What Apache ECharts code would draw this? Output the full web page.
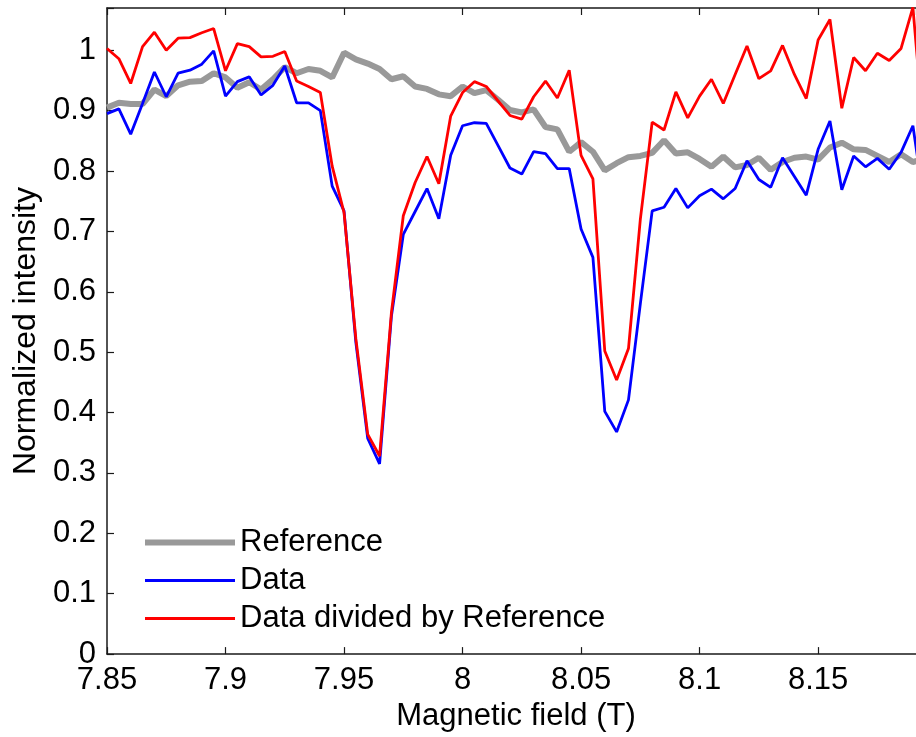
<!DOCTYPE html>
<html>
<head>
<meta charset="utf-8">
<script src="https://cdn.jsdelivr.net/npm/echarts@6/dist/echarts.min.js"></script>
<style>
  html, body { margin: 0; padding: 0; background: #fff; overflow: hidden; }
  #chart { width: 916px; height: 737px; }
</style>
</head>
<body>
<div id="chart"></div>
<script>
// Magnetic field values (T)
const field = [
  7.850, 7.855, 7.860, 7.865, 7.870, 7.875, 7.880, 7.885, 7.890, 7.895,
  7.900, 7.905, 7.910, 7.915, 7.920, 7.925, 7.930, 7.935, 7.940, 7.945,
  7.950, 7.955, 7.960, 7.965, 7.970, 7.975, 7.980, 7.985, 7.990, 7.995,
  8.000, 8.005, 8.010, 8.015, 8.020, 8.025, 8.030, 8.035, 8.040, 8.045,
  8.050, 8.055, 8.060, 8.065, 8.070, 8.075, 8.080, 8.085, 8.090, 8.095,
  8.100, 8.105, 8.110, 8.115, 8.120, 8.125, 8.130, 8.135, 8.140, 8.145,
  8.150, 8.155, 8.160, 8.165, 8.170, 8.175, 8.180, 8.185, 8.190, 8.195
];
// Reference (grey)
const reference = [
  0.905, 0.913, 0.911, 0.911, 0.935, 0.924, 0.942, 0.948, 0.949, 0.962,
  0.955, 0.938, 0.947, 0.935, 0.952, 0.972, 0.962, 0.969, 0.966, 0.955,
  0.996, 0.985, 0.978, 0.969, 0.952, 0.957, 0.940, 0.936, 0.927, 0.924,
  0.940, 0.929, 0.934, 0.918, 0.901, 0.897, 0.902, 0.873, 0.869, 0.832,
  0.848, 0.832, 0.801, 0.813, 0.823, 0.825, 0.830, 0.851, 0.829, 0.831,
  0.820, 0.807, 0.824, 0.806, 0.810, 0.822, 0.802, 0.815, 0.822, 0.824,
  0.819, 0.839, 0.847, 0.836, 0.835, 0.825, 0.815, 0.828, 0.815, 0.820
];
// Data (blue)
const dataSeries = [
  0.895, 0.903, 0.861, 0.912, 0.964, 0.923, 0.962, 0.967, 0.977, 0.999,
  0.924, 0.948, 0.956, 0.926, 0.942, 0.974, 0.913, 0.913, 0.900, 0.775,
  0.734, 0.516, 0.357, 0.315, 0.560, 0.695, 0.733, 0.771, 0.721, 0.826,
  0.875, 0.880, 0.879, 0.842, 0.805, 0.795, 0.832, 0.829, 0.804, 0.804,
  0.704, 0.657, 0.402, 0.368, 0.421, 0.580, 0.734, 0.740, 0.771, 0.739,
  0.759, 0.770, 0.754, 0.771, 0.817, 0.786, 0.773, 0.822, 0.791, 0.760,
  0.836, 0.883, 0.769, 0.825, 0.807, 0.821, 0.803, 0.831, 0.875, 0.740
];
// Data divided by Reference (red)
const ratio = [
  1.003, 0.986, 0.945, 1.006, 1.030, 1.000, 1.020, 1.021, 1.029, 1.036,
  0.966, 1.011, 1.006, 0.989, 0.990, 0.998, 0.949, 0.940, 0.930, 0.808,
  0.731, 0.522, 0.364, 0.328, 0.566, 0.726, 0.781, 0.824, 0.779, 0.891,
  0.930, 0.948, 0.940, 0.916, 0.892, 0.886, 0.923, 0.949, 0.921, 0.967,
  0.826, 0.787, 0.502, 0.454, 0.506, 0.720, 0.881, 0.868, 0.931, 0.888,
  0.924, 0.952, 0.912, 0.960, 1.007, 0.953, 0.966, 1.008, 0.960, 0.920,
  1.017, 1.051, 0.904, 0.988, 0.966, 0.995, 0.983, 1.003, 1.071, 0.840
];
const seriesNames = ['Reference', 'Data', 'Data divided by Reference'];
const seriesColors = ['#999999', '#0000ff', '#ff0000'];
const xLabelTicks = [7.85, 7.9, 7.95, 8, 8.05, 8.1, 8.15];
const yLabelTicks = [0, 0.1, 0.2, 0.3, 0.4, 0.5, 0.6, 0.7, 0.8, 0.9, 1];

const pair = ys => field.map((x, i) => [x, ys[i]]);
const FONT = '"Liberation Sans", Arial, Helvetica, sans-serif';
const AX = '#1a1a1a';
const FS = 31;
const X_MIN = 7.85, X_MAX = 8.1913;

function fmtX(v) {
  for (const t of xLabelTicks) if (Math.abs(v - t) < 1e-6) return String(t);
  return '';
}
function fmtY(v) {
  for (const t of yLabelTicks) if (Math.abs(v - t) < 1e-6) return String(t);
  return '';
}

const chart = echarts.init(document.getElementById('chart'), null, { renderer: 'canvas' });
chart.setOption({
  animation: false,
  backgroundColor: '#fff',
  textStyle: { fontFamily: FONT },
  grid: { left: 107, right: 0, top: 8, bottom: 82, containLabel: false },
  legend: {
    orient: 'vertical',
    left: 140,
    top: 522,
    itemWidth: 90,
    itemHeight: 14,
    itemGap: 7,
    itemStyle: { borderWidth: 0 },
    data: [
      { name: seriesNames[0], icon: 'path://M0,0H90V6H0Z', itemStyle: { color: seriesColors[0] } },
      { name: seriesNames[1], icon: 'path://M0,0H90V2.8H0Z', itemStyle: { color: seriesColors[1] } },
      { name: seriesNames[2], icon: 'path://M0,0H90V2.8H0Z', itemStyle: { color: seriesColors[2] } }
    ],
    textStyle: { fontSize: FS, color: '#000', fontFamily: FONT }
  },
  xAxis: [{
    type: 'value',
    min: X_MIN, max: X_MAX, interval: 0.05,
    position: 'bottom',
    name: 'Magnetic field (T)',
    nameLocation: 'middle',
    nameGap: 46,
    nameTextStyle: { fontSize: FS, color: '#000', padding: [0, 0, 0, 9] },
    axisLine: { show: true, onZero: false, lineStyle: { color: AX, width: 1.5 } },
    axisTick: { show: true, inside: true, length: 7, lineStyle: { color: AX, width: 1.2 } },
    axisLabel: { fontSize: FS, color: '#000', margin: 11, formatter: fmtX, showMaxLabel: false },
    splitLine: { show: false }
  }, {
    type: 'value',
    min: X_MIN, max: X_MAX, interval: 0.05,
    position: 'top',
    axisLine: { show: true, onZero: false, lineStyle: { color: AX, width: 1.5 } },
    axisTick: { show: true, inside: true, length: 7, lineStyle: { color: AX, width: 1.2 } },
    axisLabel: { show: false },
    splitLine: { show: false }
  }],
  yAxis: {
    type: 'value',
    min: 0, max: 1.07, interval: 0.1,
    name: 'Normalized intensity',
    nameLocation: 'middle',
    nameGap: 63,
    nameTextStyle: { fontSize: 32, color: '#000' },
    axisLine: { show: true, onZero: false, lineStyle: { color: AX, width: 1.5 } },
    axisTick: { show: true, inside: true, length: 7, lineStyle: { color: AX, width: 1.2 } },
    axisLabel: { fontSize: FS, color: '#000', margin: 11, formatter: fmtY },
    splitLine: { show: false }
  },
  series: [{
    name: seriesNames[0], type: 'line', xAxisIndex: 0, data: pair(reference), clip: true,
    symbol: 'none', lineStyle: { color: seriesColors[0], width: 6 }, itemStyle: { color: seriesColors[0] }
  }, {
    name: seriesNames[1], type: 'line', xAxisIndex: 0, data: pair(dataSeries), clip: true,
    symbol: 'none', lineStyle: { color: seriesColors[1], width: 2.8 }, itemStyle: { color: seriesColors[1] }
  }, {
    name: seriesNames[2], type: 'line', xAxisIndex: 0, data: pair(ratio), clip: true,
    symbol: 'none', lineStyle: { color: seriesColors[2], width: 2.8 }, itemStyle: { color: seriesColors[2] }
  }]
});
</script>
</body>
</html>
